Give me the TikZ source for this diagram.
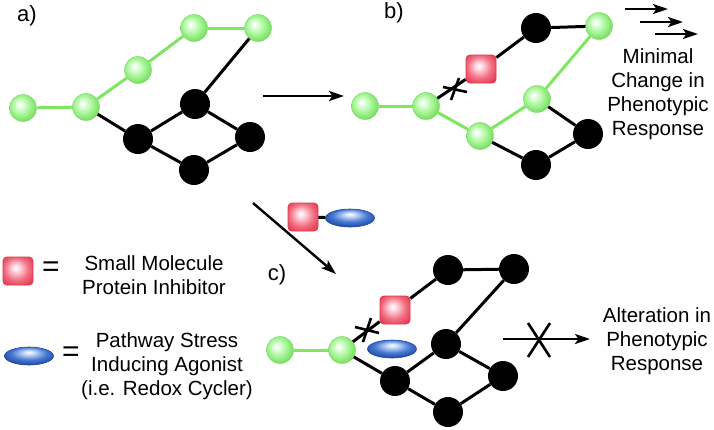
\documentclass[tikz,border=0pt]{standalone}
\usepackage{fontspec}
\setmainfont{Liberation Sans}
\usetikzlibrary{arrows.meta,shapes.geometric}
\definecolor{gLine}{RGB}{125,232,95}
\definecolor{gEdge}{RGB}{110,218,86}
\definecolor{gMid}{RGB}{170,246,155}
\definecolor{gHi}{RGB}{238,255,235}
\definecolor{rEdge}{RGB}{226,52,72}
\definecolor{rMid}{RGB}{242,110,130}
\definecolor{rHi}{RGB}{255,225,232}
\definecolor{bEdge}{RGB}{28,68,160}
\definecolor{bMid}{RGB}{70,120,210}
\definecolor{bHi}{RGB}{215,230,255}
\pgfdeclareradialshading{gballsh}{\pgfpoint{-7bp}{7bp}}{color(0bp)=(white); color(4bp)=(gHi); color(16bp)=(gMid); color(30bp)=(gEdge); color(50bp)=(gEdge)}
\pgfdeclareradialshading{rsqsh}{\pgfpoint{-4bp}{6bp}}{color(0bp)=(white); color(5bp)=(rHi); color(20bp)=(rMid); color(34bp)=(rEdge); color(50bp)=(rEdge)}
\pgfdeclareradialshading{belsh}{\pgfpoint{0bp}{11bp}}{color(0bp)=(white); color(4bp)=(bHi); color(18bp)=(bMid); color(30bp)=(bEdge); color(50bp)=(bEdge)}
\tikzset{
  gball/.style={circle, minimum size=27pt, inner sep=0pt, shading=gballsh, draw=gEdge, line width=0.4pt},
  bball/.style={circle, minimum size=30pt, inner sep=0pt, fill=black},
  inhib/.style={rectangle, rounded corners=4pt, minimum width=30pt, minimum height=28pt, inner sep=0pt, shading=rsqsh, draw=rEdge, line width=0.8pt},
  agon/.style={ellipse, minimum width=49pt, minimum height=18pt, inner sep=0pt, shading=belsh, draw=bEdge, line width=0.6pt},
  gedge/.style={draw=gLine, line width=3pt},
  bedge/.style={draw=black, line width=3pt},
  xline/.style={draw=black, line width=2.6pt},
  parrow/.style={draw=black, line width=2.4pt, -{Stealth[length=15pt,width=10pt,inset=3.5pt]}},
  txt/.style={font=\fontsize{20.5}{24}\selectfont, align=center, inner sep=0pt},
  lab/.style={font=\fontsize{22}{26}\selectfont, inner sep=0pt},
  eqs/.style={font=\fontsize{30}{30}\selectfont, inner sep=0pt}
}
\begin{document}
\begin{tikzpicture}[x=1pt,y=-1pt]
\useasboundingbox (0,0) rectangle (714,429);
% labels
\node[lab] (la) at (27,16) {a)};
\node[lab] (lb) at (394,13) {b)};
\node[lab] (lc) at (277,275) {c)};
% ---- panel a
\node[gball] (A1) at (23,108) {};
\node[gball] (A2) at (86,107) {};
\node[gball] (A3) at (138,70) {};
\node[gball] (A4) at (194,28) {};
\node[gball] (A5) at (258,28) {};
\node[bball] (AB1) at (195,104) {};
\node[bball] (AB2) at (138,139) {};
\node[bball] (AB3) at (250,137) {};
\node[bball] (AB4) at (194,170) {};
\draw[gedge] (A1) -- (A2);
\draw[gedge] (A2) -- (A3);
\draw[gedge] (A3) -- (A4);
\draw[gedge] (A4) -- (A5);
\draw[bedge] (A5) -- (AB1);
\draw[bedge] (A2) -- (AB2);
\draw[bedge] (AB2) -- (AB1);
\draw[bedge] (AB1) -- (AB3);
\draw[bedge] (AB3) -- (AB4);
\draw[bedge] (AB4) -- (AB2);
% arrow a -> b
\coordinate (ab1) at (263,96);
\coordinate (ab2) at (344,96);
\draw[parrow] (ab1) -- (ab2);
% ---- panel b
\node[gball] (B1) at (365,106) {};
\node[gball] (B2) at (426,106) {};
\node[gball] (B3) at (480,136) {};
\node[gball] (B4) at (537,99) {};
\node[gball] (B5) at (599,26) {};
\node[bball] (BB1) at (536,28) {};
\node[bball] (BB2) at (588,134) {};
\node[bball] (BB3) at (536,165) {};
\node[inhib] (BR) at (481,69) {};
\draw[gedge] (B1) -- (B2);
\draw[gedge] (B2) -- (B3);
\draw[gedge] (B3) -- (B4);
\draw[gedge] (B4) -- (B5);
\draw[bedge] (B2) -- (BR);
\draw[bedge] (BR) -- (BB1);
\draw[bedge] (BB1) -- (B5);
\draw[bedge] (B4) -- (BB2);
\draw[bedge] (BB2) -- (BB3);
\draw[bedge] (BB3) -- (B3);
\coordinate (xb) at (455,89);
\draw[xline] ([shift={(-4,11)}]xb) -- ([shift={(4,-11)}]xb);
\draw[xline] ([shift={(-12,-2)}]xb) -- ([shift={(12,3)}]xb);
% three arrows
\coordinate (t1a) at (625,9);  \coordinate (t1b) at (668,9);
\coordinate (t2a) at (640,22); \coordinate (t2b) at (683,22);
\coordinate (t3a) at (655,34); \coordinate (t3b) at (698,34);
\draw[parrow] (t1a) -- (t1b);
\draw[parrow] (t2a) -- (t2b);
\draw[parrow] (t3a) -- (t3b);
\node[txt] (tb) at (658,94) {Minimal\\Change in\\Phenotypic\\Response};
% ---- diagonal arrow with agents
\coordinate (d1) at (253,203);
\coordinate (d2) at (336,274);
\draw[parrow] (d1) -- (d2);
\node[inhib] (IR) at (303,217) {};
\node[agon] (IA) at (350,218) {};
\draw[bedge] (IR) -- (IA);
% ---- panel c
\node[gball] (C1) at (280,350) {};
\node[gball] (C2) at (342,350) {};
\node[bball] (CB1) at (448,270) {};
\node[bball] (CB2) at (514,269) {};
\node[bball] (CB3) at (446,344) {};
\node[bball] (CB4) at (395,381) {};
\node[bball] (CB5) at (503,376) {};
\node[bball] (CB6) at (448,412) {};
\node[inhib] (CR) at (395,310) {};
\node[agon] (CA) at (392,349) {};
\draw[gedge] (C1) -- (C2);
\draw[bedge] (C2) -- (CR);
\draw[bedge] (CR) -- (CB1);
\draw[bedge] (CB1) -- (CB2);
\draw[bedge] (CB2) -- (CB3);
\draw[bedge] (CB3) -- (CB4);
\draw[bedge] (CB3) -- (CB5);
\draw[bedge] (CB5) -- (CB6);
\draw[bedge] (CB6) -- (CB4);
\draw[bedge] (C2) -- (CB4);
\coordinate (xc) at (367,330);
\draw[xline] ([shift={(-4,12)}]xc) -- ([shift={(4,-12)}]xc);
\draw[xline] ([shift={(-12,-3)}]xc) -- ([shift={(12,3)}]xc);
% blocked arrow
\coordinate (e1) at (503,339);
\coordinate (e2) at (590,339);
\draw[parrow] (e1) -- (e2);
\coordinate (xe) at (539,340);
\draw[xline] ([shift={(-11,-17)}]xe) -- ([shift={(11,17)}]xe);
\draw[xline] ([shift={(11,-17)}]xe) -- ([shift={(-11,17)}]xe);
\node[txt] (tc) at (657,341) {Alteration in\\Phenotypic\\Response};
% ---- legend
\node[inhib, minimum width=30pt, minimum height=28pt] (LR) at (18,271) {};
\node[eqs] (LE1) at (51,269) {=};
\node[txt] (LT1) at (154,275) {Small Molecule\\Protein Inhibitor};
\node[agon] (LA) at (29,356) {};
\node[eqs] (LE2) at (71,354) {=};
\node[txt] (LT2) at (167,366) {Pathway Stress\\Inducing Agonist\\(i.e. Redox Cycler)};
\end{tikzpicture}
\end{document}
